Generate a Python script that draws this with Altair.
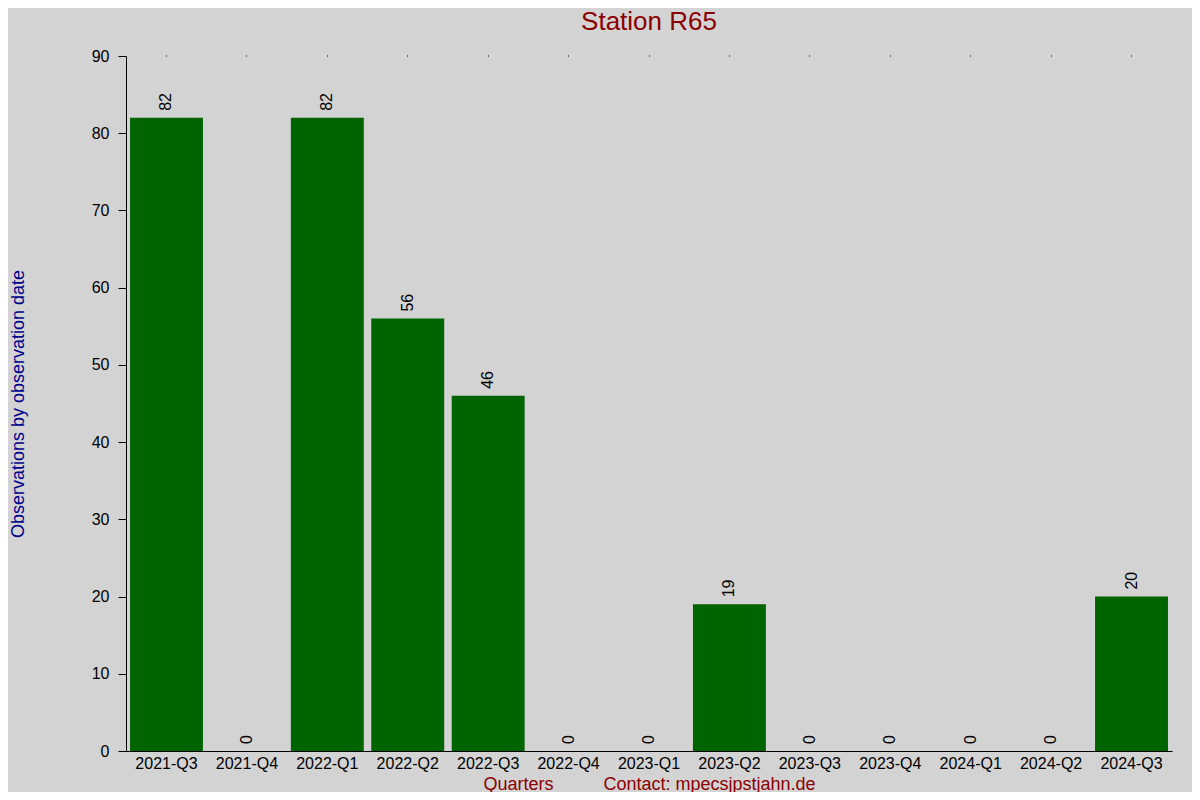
import altair as alt
import pandas as pd

quarters = ["2021-Q3", "2021-Q4", "2022-Q1", "2022-Q2", "2022-Q3", "2022-Q4", "2023-Q1",
            "2023-Q2", "2023-Q3", "2023-Q4", "2024-Q1", "2024-Q2", "2024-Q3"]
counts = [82, 0, 82, 56, 46, 0, 0, 19, 0, 0, 0, 0, 20]

df = pd.DataFrame({"quarter": quarters, "count": counts})

FONT = "Liberation Sans"
NB = "\u00a0"
x_title = "Quarters" + NB * 10 + "Contact: mpecsjpstjahn.de"

x_scale = alt.Scale(paddingInner=0.093, paddingOuter=0.05)
y_scale = alt.Scale(domain=[0, 90])

bars = alt.Chart(df).mark_bar(color="#006400").encode(
    x=alt.X("quarter:N", sort=quarters, scale=x_scale,
            axis=alt.Axis(title=x_title, titleFont=FONT, titleFontSize=18, titleFontWeight="normal",
                          titleColor="#8b0000", titleY=33, titleBaseline="middle",
                          labelAngle=0, labelFont=FONT, labelFontSize=16, labelColor="black",
                          labelPadding=4, ticks=False, domainColor="black", domainWidth=1)),
    y=alt.Y("count:Q", scale=y_scale,
            axis=alt.Axis(title="Observations by observation date", titleFont=FONT, titleFontSize=18,
                          titleFontWeight="normal", titleColor="#00008b", titleAngle=-90,
                          titleX=-108, titleY=347.5, titleAlign="center", titleBaseline="middle",
                          values=list(range(0, 91, 10)), labelFont=FONT, labelFontSize=16,
                          labelColor="black", labelPadding=9, tickSize=8, tickColor="black",
                          domainColor="black", grid=False)),
)

labels = alt.Chart(df).mark_text(angle=270, align="left", baseline="middle", dx=7,
                                 font=FONT, fontSize=16, color="black").encode(
    x=alt.X("quarter:N", sort=quarters, scale=x_scale,
            axis=alt.Axis(orient="top", title=None, labels=False, domain=False,
                          tickSize=1, tickColor="black", tickWidth=1)),
    y=alt.Y("count:Q", scale=y_scale, axis=None),
    text="count:Q",
)

chart = alt.layer(bars, labels).resolve_axis(x="independent", y="independent").properties(
    width=1046, height=695,
    title=alt.TitleParams("Station R65", font=FONT, fontSize=26, fontWeight="normal",
                          color="#8b0000", anchor="middle", baseline="middle", frame="group",
                          offset=0),
    background="#d3d3d3",
    autosize=alt.AutoSizeParams(type="none"),
    padding={"left": 118, "top": 48, "right": 20, "bottom": 41},
).configure_view(stroke=None)

chart.save("out.html", embed_options={"renderer": "svg", "actions": False})
